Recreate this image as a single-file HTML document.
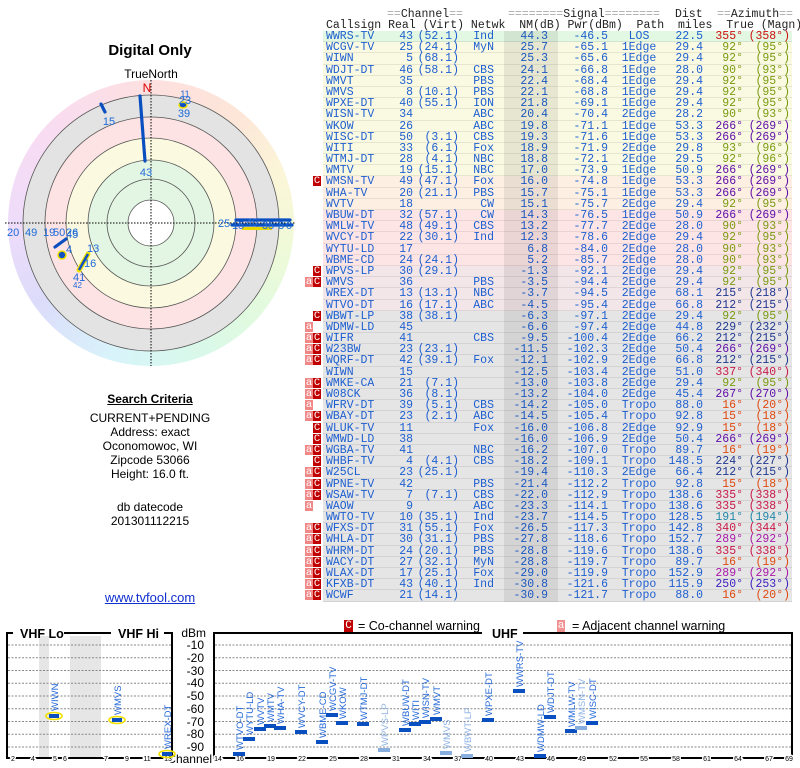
<!DOCTYPE html>
<html><head><meta charset="utf-8">
<style>
body{margin:0;width:800px;height:768px;background:#fff;position:relative;overflow:hidden;font-family:"Liberation Sans",sans-serif}
.mono{font-family:"Liberation Mono","DejaVu Sans Mono",monospace;font-size:11.5px}
#tb{position:absolute;left:323px;top:31px;width:469px}
.r{position:relative;height:11.2px;line-height:11.2px;color:#1e5fd0;box-shadow:inset 0 -1px 0 rgba(0,0,0,0.08);white-space:pre}
.r span{position:absolute;top:0}
.cs{left:3px}.re{right:379px}.vi{right:333px}.nw{right:298px}.nm{right:244px}.pw{right:184px}
.pa{left:290px;width:52px;text-align:center}.di{right:89px}.tr{right:49px}.mg{right:2px}
.wa,.wc{position:absolute;top:0.5px;height:10px;line-height:10px;width:8px;text-align:center;color:#fff;font-size:10.5px}
.wa{left:-18px;background:#f08888}.wc{left:-10px;background:#c00000}
.g{background:#e2f8e2}.y{background:#fafae2}.o{background:#fdefe2}.p{background:#fde5e5}.q{background:#f2e6e8}.k{background:#e5e5e5}
.red span.tr,.red span.mg{color:#d01010}.ol span.tr,.ol span.mg{color:#7a9a10}.pu span.tr,.pu span.mg{color:#6010a8}
.nv span.tr,.nv span.mg{color:#203890}.cr span.tr,.cr span.mg{color:#c81848}.or span.tr,.or span.mg{color:#e04a10}
.te span.tr,.te span.mg{color:#2088a8}.ma span.tr,.ma span.mg{color:#a818a8}.in span.tr,.in span.mg{color:#4020c0}
.h{position:absolute;color:#222;white-space:pre;line-height:11px}
.h i{color:#aaa;font-style:normal}
.lt{position:absolute;width:300px;left:0;text-align:center;font-size:12px;color:#000}
</style></head><body>

<div class="h mono" style="left:387px;top:9px"><i>==</i>Channel<i>==</i></div>
<div class="h mono" style="left:508px;top:9px"><i>========</i>Signal<i>========</i></div>
<div class="h mono" style="left:675px;top:9px">Dist</div>
<div class="h mono" style="left:717px;top:9px"><i>==</i>Azimuth<i>==</i></div>
<div class="h mono" style="left:326px;top:20px">Callsign Real (Virt) Netwk  NM(dB) Pwr(dBm)  Path  miles  True (Magn)</div>

<div style="position:absolute;left:504px;top:31px;width:54px;height:571px;background:rgba(0,0,0,0.075);z-index:2"></div>

<div id="tb" class="mono">
<div class="r g red"><span class="cs">WWRS-TV</span><span class="re">43</span><span class="vi">(52.1)</span><span class="nw">Ind</span><span class="nm">44.3</span><span class="pw">-46.5</span><span class="pa">LOS</span><span class="di">22.5</span><span class="tr">355°</span><span class="mg">(358°)</span></div>
<div class="r y ol"><span class="cs">WCGV-TV</span><span class="re">25</span><span class="vi">(24.1)</span><span class="nw">MyN</span><span class="nm">25.7</span><span class="pw">-65.1</span><span class="pa">1Edge</span><span class="di">29.4</span><span class="tr">92°</span><span class="mg">(95°)</span></div>
<div class="r y ol"><span class="cs">WIWN</span><span class="re">5</span><span class="vi">(68.1)</span><span class="nm">25.3</span><span class="pw">-65.6</span><span class="pa">1Edge</span><span class="di">29.4</span><span class="tr">92°</span><span class="mg">(95°)</span></div>
<div class="r y ol"><span class="cs">WDJT-DT</span><span class="re">46</span><span class="vi">(58.1)</span><span class="nw">CBS</span><span class="nm">24.1</span><span class="pw">-66.8</span><span class="pa">1Edge</span><span class="di">28.0</span><span class="tr">90°</span><span class="mg">(93°)</span></div>
<div class="r y ol"><span class="cs">WMVT</span><span class="re">35</span><span class="nw">PBS</span><span class="nm">22.4</span><span class="pw">-68.4</span><span class="pa">1Edge</span><span class="di">29.4</span><span class="tr">92°</span><span class="mg">(95°)</span></div>
<div class="r y ol"><span class="cs">WMVS</span><span class="re">8</span><span class="vi">(10.1)</span><span class="nw">PBS</span><span class="nm">22.1</span><span class="pw">-68.8</span><span class="pa">1Edge</span><span class="di">29.4</span><span class="tr">92°</span><span class="mg">(95°)</span></div>
<div class="r y ol"><span class="cs">WPXE-DT</span><span class="re">40</span><span class="vi">(55.1)</span><span class="nw">ION</span><span class="nm">21.8</span><span class="pw">-69.1</span><span class="pa">1Edge</span><span class="di">29.4</span><span class="tr">92°</span><span class="mg">(95°)</span></div>
<div class="r y ol"><span class="cs">WISN-TV</span><span class="re">34</span><span class="nw">ABC</span><span class="nm">20.4</span><span class="pw">-70.4</span><span class="pa">2Edge</span><span class="di">28.2</span><span class="tr">90°</span><span class="mg">(93°)</span></div>
<div class="r y pu"><span class="cs">WKOW</span><span class="re">26</span><span class="nw">ABC</span><span class="nm">19.8</span><span class="pw">-71.1</span><span class="pa">1Edge</span><span class="di">53.3</span><span class="tr">266°</span><span class="mg">(269°)</span></div>
<div class="r y pu"><span class="cs">WISC-DT</span><span class="re">50</span><span class="vi">(3.1)</span><span class="nw">CBS</span><span class="nm">19.3</span><span class="pw">-71.6</span><span class="pa">1Edge</span><span class="di">53.3</span><span class="tr">266°</span><span class="mg">(269°)</span></div>
<div class="r y ol"><span class="cs">WITI</span><span class="re">33</span><span class="vi">(6.1)</span><span class="nw">Fox</span><span class="nm">18.9</span><span class="pw">-71.9</span><span class="pa">2Edge</span><span class="di">29.8</span><span class="tr">93°</span><span class="mg">(96°)</span></div>
<div class="r y ol"><span class="cs">WTMJ-DT</span><span class="re">28</span><span class="vi">(4.1)</span><span class="nw">NBC</span><span class="nm">18.8</span><span class="pw">-72.1</span><span class="pa">2Edge</span><span class="di">29.5</span><span class="tr">92°</span><span class="mg">(96°)</span></div>
<div class="r y pu"><span class="cs">WMTV</span><span class="re">19</span><span class="vi">(15.1)</span><span class="nw">NBC</span><span class="nm">17.0</span><span class="pw">-73.9</span><span class="pa">1Edge</span><span class="di">50.9</span><span class="tr">266°</span><span class="mg">(269°)</span></div>
<div class="r o pu"><span class="wc">C</span><span class="cs">WMSN-TV</span><span class="re">49</span><span class="vi">(47.1)</span><span class="nw">Fox</span><span class="nm">16.0</span><span class="pw">-74.8</span><span class="pa">1Edge</span><span class="di">53.3</span><span class="tr">266°</span><span class="mg">(269°)</span></div>
<div class="r o pu"><span class="cs">WHA-TV</span><span class="re">20</span><span class="vi">(21.1)</span><span class="nw">PBS</span><span class="nm">15.7</span><span class="pw">-75.1</span><span class="pa">1Edge</span><span class="di">53.3</span><span class="tr">266°</span><span class="mg">(269°)</span></div>
<div class="r o ol"><span class="cs">WVTV</span><span class="re">18</span><span class="nw">CW</span><span class="nm">15.1</span><span class="pw">-75.7</span><span class="pa">2Edge</span><span class="di">29.4</span><span class="tr">92°</span><span class="mg">(95°)</span></div>
<div class="r p pu"><span class="cs">WBUW-DT</span><span class="re">32</span><span class="vi">(57.1)</span><span class="nw">CW</span><span class="nm">14.3</span><span class="pw">-76.5</span><span class="pa">1Edge</span><span class="di">50.9</span><span class="tr">266°</span><span class="mg">(269°)</span></div>
<div class="r p ol"><span class="cs">WMLW-TV</span><span class="re">48</span><span class="vi">(49.1)</span><span class="nw">CBS</span><span class="nm">13.2</span><span class="pw">-77.7</span><span class="pa">2Edge</span><span class="di">28.0</span><span class="tr">90°</span><span class="mg">(93°)</span></div>
<div class="r p ol"><span class="cs">WVCY-DT</span><span class="re">22</span><span class="vi">(30.1)</span><span class="nw">Ind</span><span class="nm">12.3</span><span class="pw">-78.6</span><span class="pa">2Edge</span><span class="di">29.4</span><span class="tr">92°</span><span class="mg">(95°)</span></div>
<div class="r p ol"><span class="cs">WYTU-LD</span><span class="re">17</span><span class="nm">6.8</span><span class="pw">-84.0</span><span class="pa">2Edge</span><span class="di">28.0</span><span class="tr">90°</span><span class="mg">(93°)</span></div>
<div class="r p ol"><span class="cs">WBME-CD</span><span class="re">24</span><span class="vi">(24.1)</span><span class="nm">5.2</span><span class="pw">-85.7</span><span class="pa">2Edge</span><span class="di">28.0</span><span class="tr">90°</span><span class="mg">(93°)</span></div>
<div class="r q ol"><span class="wc">C</span><span class="cs">WPVS-LP</span><span class="re">30</span><span class="vi">(29.1)</span><span class="nm">-1.3</span><span class="pw">-92.1</span><span class="pa">2Edge</span><span class="di">29.4</span><span class="tr">92°</span><span class="mg">(95°)</span></div>
<div class="r q ol"><span class="wa">a</span><span class="wc">C</span><span class="cs">WMVS</span><span class="re">36</span><span class="nw">PBS</span><span class="nm">-3.5</span><span class="pw">-94.4</span><span class="pa">2Edge</span><span class="di">29.4</span><span class="tr">92°</span><span class="mg">(95°)</span></div>
<div class="r q nv"><span class="cs">WREX-DT</span><span class="re">13</span><span class="vi">(13.1)</span><span class="nw">NBC</span><span class="nm">-3.7</span><span class="pw">-94.5</span><span class="pa">2Edge</span><span class="di">68.1</span><span class="tr">215°</span><span class="mg">(218°)</span></div>
<div class="r q nv"><span class="cs">WTVO-DT</span><span class="re">16</span><span class="vi">(17.1)</span><span class="nw">ABC</span><span class="nm">-4.5</span><span class="pw">-95.4</span><span class="pa">2Edge</span><span class="di">66.8</span><span class="tr">212°</span><span class="mg">(215°)</span></div>
<div class="r k ol"><span class="wc">C</span><span class="cs">WBWT-LP</span><span class="re">38</span><span class="vi">(38.1)</span><span class="nm">-6.3</span><span class="pw">-97.1</span><span class="pa">2Edge</span><span class="di">29.4</span><span class="tr">92°</span><span class="mg">(95°)</span></div>
<div class="r k nv"><span class="wa">a</span><span class="cs">WDMW-LD</span><span class="re">45</span><span class="nm">-6.6</span><span class="pw">-97.4</span><span class="pa">2Edge</span><span class="di">44.8</span><span class="tr">229°</span><span class="mg">(232°)</span></div>
<div class="r k nv"><span class="wa">a</span><span class="wc">C</span><span class="cs">WIFR</span><span class="re">41</span><span class="nw">CBS</span><span class="nm">-9.5</span><span class="pw">-100.4</span><span class="pa">2Edge</span><span class="di">66.2</span><span class="tr">212°</span><span class="mg">(215°)</span></div>
<div class="r k pu"><span class="wa">a</span><span class="wc">C</span><span class="cs">W23BW</span><span class="re">23</span><span class="vi">(23.1)</span><span class="nm">-11.5</span><span class="pw">-102.3</span><span class="pa">2Edge</span><span class="di">50.4</span><span class="tr">266°</span><span class="mg">(269°)</span></div>
<div class="r k nv"><span class="wa">a</span><span class="wc">C</span><span class="cs">WQRF-DT</span><span class="re">42</span><span class="vi">(39.1)</span><span class="nw">Fox</span><span class="nm">-12.1</span><span class="pw">-102.9</span><span class="pa">2Edge</span><span class="di">66.8</span><span class="tr">212°</span><span class="mg">(215°)</span></div>
<div class="r k cr"><span class="cs">WIWN</span><span class="re">15</span><span class="nm">-12.5</span><span class="pw">-103.4</span><span class="pa">2Edge</span><span class="di">51.0</span><span class="tr">337°</span><span class="mg">(340°)</span></div>
<div class="r k ol"><span class="wa">a</span><span class="wc">C</span><span class="cs">WMKE-CA</span><span class="re">21</span><span class="vi">(7.1)</span><span class="nm">-13.0</span><span class="pw">-103.8</span><span class="pa">2Edge</span><span class="di">29.4</span><span class="tr">92°</span><span class="mg">(95°)</span></div>
<div class="r k pu"><span class="wa">a</span><span class="wc">C</span><span class="cs">W08CK</span><span class="re">36</span><span class="vi">(8.1)</span><span class="nm">-13.2</span><span class="pw">-104.0</span><span class="pa">2Edge</span><span class="di">45.4</span><span class="tr">267°</span><span class="mg">(270°)</span></div>
<div class="r k or"><span class="wa">a</span><span class="cs">WFRV-DT</span><span class="re">39</span><span class="vi">(5.1)</span><span class="nw">CBS</span><span class="nm">-14.2</span><span class="pw">-105.0</span><span class="pa">Tropo</span><span class="di">88.0</span><span class="tr">16°</span><span class="mg">(20°)</span></div>
<div class="r k or"><span class="wa">a</span><span class="wc">C</span><span class="cs">WBAY-DT</span><span class="re">23</span><span class="vi">(2.1)</span><span class="nw">ABC</span><span class="nm">-14.5</span><span class="pw">-105.4</span><span class="pa">Tropo</span><span class="di">92.8</span><span class="tr">15°</span><span class="mg">(18°)</span></div>
<div class="r k or"><span class="wc">C</span><span class="cs">WLUK-TV</span><span class="re">11</span><span class="nw">Fox</span><span class="nm">-16.0</span><span class="pw">-106.8</span><span class="pa">2Edge</span><span class="di">92.9</span><span class="tr">15°</span><span class="mg">(18°)</span></div>
<div class="r k pu"><span class="wc">C</span><span class="cs">WMWD-LD</span><span class="re">38</span><span class="nm">-16.0</span><span class="pw">-106.9</span><span class="pa">2Edge</span><span class="di">50.4</span><span class="tr">266°</span><span class="mg">(269°)</span></div>
<div class="r k or"><span class="wa">a</span><span class="wc">C</span><span class="cs">WGBA-TV</span><span class="re">41</span><span class="nw">NBC</span><span class="nm">-16.2</span><span class="pw">-107.0</span><span class="pa">Tropo</span><span class="di">89.7</span><span class="tr">16°</span><span class="mg">(19°)</span></div>
<div class="r k nv"><span class="wc">C</span><span class="cs">WHBF-TV</span><span class="re">4</span><span class="vi">(4.1)</span><span class="nw">CBS</span><span class="nm">-18.2</span><span class="pw">-109.1</span><span class="pa">Tropo</span><span class="di">148.5</span><span class="tr">224°</span><span class="mg">(227°)</span></div>
<div class="r k nv"><span class="wa">a</span><span class="wc">C</span><span class="cs">W25CL</span><span class="re">23</span><span class="vi">(25.1)</span><span class="nm">-19.4</span><span class="pw">-110.3</span><span class="pa">2Edge</span><span class="di">66.4</span><span class="tr">212°</span><span class="mg">(215°)</span></div>
<div class="r k or"><span class="wa">a</span><span class="wc">C</span><span class="cs">WPNE-TV</span><span class="re">42</span><span class="nw">PBS</span><span class="nm">-21.4</span><span class="pw">-112.2</span><span class="pa">Tropo</span><span class="di">92.8</span><span class="tr">15°</span><span class="mg">(18°)</span></div>
<div class="r k cr"><span class="wa">a</span><span class="wc">C</span><span class="cs">WSAW-TV</span><span class="re">7</span><span class="vi">(7.1)</span><span class="nw">CBS</span><span class="nm">-22.0</span><span class="pw">-112.9</span><span class="pa">Tropo</span><span class="di">138.6</span><span class="tr">335°</span><span class="mg">(338°)</span></div>
<div class="r k cr"><span class="wa">a</span><span class="cs">WAOW</span><span class="re">9</span><span class="nw">ABC</span><span class="nm">-23.3</span><span class="pw">-114.1</span><span class="pa">Tropo</span><span class="di">138.6</span><span class="tr">335°</span><span class="mg">(338°)</span></div>
<div class="r k te"><span class="cs">WWTO-TV</span><span class="re">10</span><span class="vi">(35.1)</span><span class="nw">Ind</span><span class="nm">-23.7</span><span class="pw">-114.5</span><span class="pa">Tropo</span><span class="di">128.5</span><span class="tr">191°</span><span class="mg">(194°)</span></div>
<div class="r k cr"><span class="wa">a</span><span class="wc">C</span><span class="cs">WFXS-DT</span><span class="re">31</span><span class="vi">(55.1)</span><span class="nw">Fox</span><span class="nm">-26.5</span><span class="pw">-117.3</span><span class="pa">Tropo</span><span class="di">142.8</span><span class="tr">340°</span><span class="mg">(344°)</span></div>
<div class="r k ma"><span class="wa">a</span><span class="wc">C</span><span class="cs">WHLA-DT</span><span class="re">30</span><span class="vi">(31.1)</span><span class="nw">PBS</span><span class="nm">-27.8</span><span class="pw">-118.6</span><span class="pa">Tropo</span><span class="di">152.7</span><span class="tr">289°</span><span class="mg">(292°)</span></div>
<div class="r k cr"><span class="wa">a</span><span class="wc">C</span><span class="cs">WHRM-DT</span><span class="re">24</span><span class="vi">(20.1)</span><span class="nw">PBS</span><span class="nm">-28.8</span><span class="pw">-119.6</span><span class="pa">Tropo</span><span class="di">138.6</span><span class="tr">335°</span><span class="mg">(338°)</span></div>
<div class="r k or"><span class="wa">a</span><span class="wc">C</span><span class="cs">WACY-DT</span><span class="re">27</span><span class="vi">(32.1)</span><span class="nw">MyN</span><span class="nm">-28.8</span><span class="pw">-119.7</span><span class="pa">Tropo</span><span class="di">89.7</span><span class="tr">16°</span><span class="mg">(19°)</span></div>
<div class="r k ma"><span class="wa">a</span><span class="wc">C</span><span class="cs">WLAX-DT</span><span class="re">17</span><span class="vi">(25.1)</span><span class="nw">Fox</span><span class="nm">-29.0</span><span class="pw">-119.9</span><span class="pa">Tropo</span><span class="di">152.9</span><span class="tr">289°</span><span class="mg">(292°)</span></div>
<div class="r k in"><span class="wa">a</span><span class="wc">C</span><span class="cs">KFXB-DT</span><span class="re">43</span><span class="vi">(40.1)</span><span class="nw">Ind</span><span class="nm">-30.8</span><span class="pw">-121.6</span><span class="pa">Tropo</span><span class="di">115.9</span><span class="tr">250°</span><span class="mg">(253°)</span></div>
<div class="r k or"><span class="wa">a</span><span class="wc">C</span><span class="cs">WCWF</span><span class="re">21</span><span class="vi">(14.1)</span><span class="nm">-30.9</span><span class="pw">-121.7</span><span class="pa">Tropo</span><span class="di">88.0</span><span class="tr">16°</span><span class="mg">(20°)</span></div>
</div>

<div class="lt" style="top:42px;font-size:15px;font-weight:bold">Digital Only</div>
<div style="position:absolute;left:8px;top:80px;width:286px;height:286px;border-radius:50%;background:conic-gradient(#fde0e0,#fde6d8 40deg,#fbf6d8 70deg,#effad8 100deg,#e0fae0 135deg,#d8f8ec 165deg,#d8f4fa 195deg,#dcdcfa 235deg,#eedcfa 270deg,#f8dcf2 310deg,#fde0e0)"></div>
<svg width="800" height="768" style="position:absolute;left:0;top:0" font-family="Liberation Sans, sans-serif">
<g stroke="#555" stroke-width="0.8">
<circle cx="151" cy="223" r="128" fill="#e3e3e3"/>
<circle cx="151" cy="223" r="106" fill="#fde3e3"/>
<circle cx="151" cy="223" r="85" fill="#fbfae0"/>
<circle cx="151" cy="223" r="63" fill="#e3f6e3"/>
<circle cx="151" cy="223" r="44" fill="#e3f6e3"/>
<circle cx="151" cy="223" r="23" fill="#fff"/>
</g>
<g stroke="#000" stroke-width="1" stroke-dasharray="1.5,1.5">
<line x1="5" y1="223" x2="296" y2="223"/><line x1="151" y1="80" x2="151" y2="366"/>
</g>
<text x="151" y="78" font-size="12" text-anchor="middle">TrueNorth</text>
<text x="147" y="92" font-size="12" text-anchor="middle" fill="#d00">N</text>
<g stroke="#0a4fc0" stroke-width="3.2" stroke-linecap="round">
<line x1="140" y1="96" x2="145" y2="161"/>
<line x1="101" y1="104" x2="105" y2="112"/>
<line x1="55" y1="247" x2="66" y2="239"/>
<line x1="232" y1="225" x2="292" y2="225"/>
<line x1="236" y1="220" x2="290" y2="220"/>
</g>
<rect x="242" y="227" width="30" height="3" fill="#e8d800"/>
<ellipse cx="183" cy="105" rx="4" ry="3" fill="#1050c0" stroke="#f0e000" stroke-width="1.5"/>
<ellipse cx="62" cy="255" rx="4" ry="4" fill="#1050c0" stroke="#f0e000" stroke-width="1.5"/>
<line x1="79" y1="270" x2="88" y2="254" stroke="#f0e000" stroke-width="5" stroke-linecap="round"/>
<line x1="79" y1="270" x2="88" y2="254" stroke="#1050c0" stroke-width="2.5"/>
<g font-size="11" fill="#1e6ad8">
<text x="146" y="176" text-anchor="middle">43</text>
<text x="109" y="125" text-anchor="middle">15</text>
<text x="185" y="97" text-anchor="middle" font-size="9">11</text>
<text x="185" y="104" text-anchor="middle">23</text>
<text x="184" y="117" text-anchor="middle">39</text>
<text x="218" y="227">25</text><text x="232" y="229">15</text>
<text x="246" y="226">46</text><text x="262" y="229">35</text><text x="278" y="229">8</text><text x="286" y="229">0</text>
<text x="7" y="236">20</text><text x="25" y="236">49</text><text x="43" y="236">19</text><text x="53" y="236">50</text><text x="66" y="236">26</text>
<text x="66" y="238">45</text>
<text x="66" y="253">4</text>
<text x="87" y="252">13</text>
<text x="84" y="267">16</text>
<text x="73" y="281">41</text>
<text x="73" y="288" font-size="8">42</text>
</g>
</svg>

<div class="lt" style="top:392px;font-weight:bold;text-decoration:underline">Search Criteria</div>
<div class="lt" style="top:411px">CURRENT+PENDING</div>
<div class="lt" style="top:425px">Address: exact</div>
<div class="lt" style="top:439px">Oconomowoc, WI</div>
<div class="lt" style="top:453px">Zipcode 53066</div>
<div class="lt" style="top:467px">Height: 16.0 ft.</div>
<div class="lt" style="top:500px">db datecode</div>
<div class="lt" style="top:514px">201301112215</div>
<div class="lt" style="top:590px;color:#1030d0;text-decoration:underline;font-size:13px">www.tvfool.com</div>

<div style="position:absolute;left:344px;top:620px;width:9px;height:13px;background:#c00000;color:#fff;font-size:11px;text-align:center;line-height:13px" class="mono">C</div>
<div style="position:absolute;left:358px;top:619px;font-size:12.5px">= Co-channel warning</div>
<div style="position:absolute;left:557px;top:620px;width:8px;height:13px;background:#f09090;color:#fff;font-size:11px;text-align:center;line-height:13px" class="mono">a</div>
<div style="position:absolute;left:572px;top:619px;font-size:12.5px">= Adjacent channel warning</div>

<svg width="800" height="768" style="position:absolute;left:0;top:0" font-family="Liberation Sans, sans-serif">
<rect x="39" y="636" width="10" height="122" fill="#e6e6e6"/>
<rect x="70" y="636" width="31" height="122" fill="#e6e6e6"/>
<g stroke="#888" stroke-width="1" stroke-dasharray="2,1.5">
<line x1="8" x2="172" y1="645" y2="645"/><line x1="8" x2="172" y1="657.75" y2="657.75"/><line x1="8" x2="172" y1="670.5" y2="670.5"/><line x1="8" x2="172" y1="683.25" y2="683.25"/><line x1="8" x2="172" y1="696" y2="696"/><line x1="8" x2="172" y1="708.75" y2="708.75"/><line x1="8" x2="172" y1="721.5" y2="721.5"/><line x1="8" x2="172" y1="734.25" y2="734.25"/><line x1="8" x2="172" y1="747" y2="747"/>
<line x1="215" x2="791" y1="645" y2="645"/><line x1="215" x2="791" y1="657.75" y2="657.75"/><line x1="215" x2="791" y1="670.5" y2="670.5"/><line x1="215" x2="791" y1="683.25" y2="683.25"/><line x1="215" x2="791" y1="696" y2="696"/><line x1="215" x2="791" y1="708.75" y2="708.75"/><line x1="215" x2="791" y1="721.5" y2="721.5"/><line x1="215" x2="791" y1="734.25" y2="734.25"/><line x1="215" x2="791" y1="747" y2="747"/>
</g>
<g stroke="#000" stroke-width="2" fill="none">
<polyline points="13,633 7,633 7,758 172,758 172,633 164,633"/>
<line x1="64" y1="633" x2="111" y2="633"/>
<polyline points="482,633 214,633 214,758 792,758 792,633 523,633"/>
</g>
<g font-weight="bold" font-size="12.5">
<text x="20" y="638">VHF Lo</text><text x="118" y="638">VHF Hi</text><text x="492" y="638">UHF</text>
</g>
<g font-size="12" text-anchor="end">
<text x="206" y="637">dBm</text><text x="204" y="649">-10</text><text x="204" y="662">-20</text><text x="204" y="675">-30</text><text x="204" y="687">-40</text><text x="204" y="700">-50</text><text x="204" y="713">-60</text><text x="204" y="726">-70</text><text x="204" y="738">-80</text><text x="204" y="751">-90</text><text x="212" y="763">Channel</text>
</g>
<g font-size="7" text-anchor="middle" style="paint-order:stroke" stroke="#fff" stroke-width="3" fill="#000">
<text x="13" y="761">2</text><text x="33" y="761">4</text><text x="55" y="761">5</text><text x="65" y="761">6</text><text x="106" y="761">7</text><text x="127" y="761">9</text><text x="147" y="761">11</text><text x="168" y="761">13</text>
<text x="218" y="761">14</text><text x="240" y="761">16</text><text x="271" y="761">19</text><text x="302" y="761">22</text><text x="333" y="761">25</text><text x="364" y="761">28</text><text x="396" y="761">31</text><text x="427" y="761">34</text><text x="458" y="761">37</text><text x="489" y="761">40</text><text x="520" y="761">43</text><text x="551" y="761">46</text><text x="582" y="761">49</text><text x="613" y="761">52</text><text x="644" y="761">55</text><text x="676" y="761">58</text><text x="707" y="761">61</text><text x="738" y="761">64</text><text x="769" y="761">67</text><text x="789" y="761">69</text>
</g>
<g stroke="#f0e000" stroke-width="1.6" fill="none">
<ellipse cx="54" cy="716" rx="8" ry="3.5"/><ellipse cx="117" cy="720" rx="8" ry="3.5"/><ellipse cx="167" cy="754" rx="8" ry="3.5"/>
</g>
<g fill="#0a4fc0">
<rect x="49" y="714" width="10" height="4"/><rect x="112" y="718" width="10" height="4"/><rect x="162" y="752" width="10" height="4"/>
<rect x="233" y="752" width="12" height="4"/><rect x="243" y="737" width="12" height="4"/><rect x="254" y="727" width="12" height="4"/><rect x="264" y="724" width="12" height="4"/><rect x="274" y="726" width="12" height="4"/><rect x="295" y="730" width="12" height="4"/><rect x="316" y="740" width="12" height="4"/><rect x="326" y="713" width="12" height="4"/><rect x="336" y="721" width="12" height="4"/><rect x="357" y="722" width="12" height="4"/>
<rect x="399" y="728" width="12" height="4"/><rect x="409" y="722" width="12" height="4"/><rect x="419" y="720" width="12" height="4"/><rect x="430" y="717" width="12" height="4"/><rect x="482" y="718" width="12" height="4"/><rect x="513" y="689" width="12" height="4"/><rect x="534" y="754" width="12" height="4"/><rect x="544" y="715" width="12" height="4"/><rect x="565" y="729" width="12" height="4"/><rect x="586" y="721" width="12" height="4"/>
</g>
<g fill="#88aee0">
<rect x="378" y="748" width="12" height="4"/><rect x="440" y="751" width="12" height="4"/><rect x="461" y="754" width="12" height="4"/><rect x="575" y="726" width="12" height="4"/>
</g>
<g font-size="9.5" fill="#2468d8">
<text transform="translate(58,711) rotate(-90)">WIWN</text>
<text transform="translate(121,715) rotate(-90)">WMVS</text>
<text transform="translate(171,749) rotate(-90)">WREX-DT</text>
<text transform="translate(243,750) rotate(-90)">WTVO-DT</text>
<text transform="translate(253,735) rotate(-90)">WYTU-LD</text>
<text transform="translate(264,725) rotate(-90)">WVTV</text>
<text transform="translate(274,722) rotate(-90)">WMTV</text>
<text transform="translate(284,724) rotate(-90)">WHA-TV</text>
<text transform="translate(305,728) rotate(-90)">WVCY-DT</text>
<text transform="translate(326,738) rotate(-90)">WBME-CD</text>
<text transform="translate(336,711) rotate(-90)">WCGV-TV</text>
<text transform="translate(346,719) rotate(-90)">WKOW</text>
<text transform="translate(367,720) rotate(-90)">WTMJ-DT</text>
<text transform="translate(409,726) rotate(-90)">WBUW-DT</text>
<text transform="translate(419,720) rotate(-90)">WITI</text>
<text transform="translate(429,718) rotate(-90)">WISN-TV</text>
<text transform="translate(440,715) rotate(-90)">WMVT</text>
<text transform="translate(492,716) rotate(-90)">WPXE-DT</text>
<text transform="translate(523,687) rotate(-90)">WWRS-TV</text>
<text transform="translate(544,752) rotate(-90)">WDMW-LD</text>
<text transform="translate(554,713) rotate(-90)">WDJT-DT</text>
<text transform="translate(575,727) rotate(-90)">WMLW-TV</text>
<text transform="translate(596,719) rotate(-90)">WISC-DT</text>
</g>
<g font-size="9.5" fill="#8fb2e4">
<text transform="translate(388,746) rotate(-90)">WPVS-LP</text>
<text transform="translate(450,749) rotate(-90)">WMVS</text>
<text transform="translate(471,752) rotate(-90)">WBWT-LP</text>
<text transform="translate(585,724) rotate(-90)">WMSN-TV</text>
</g>
</svg>
</body></html>
